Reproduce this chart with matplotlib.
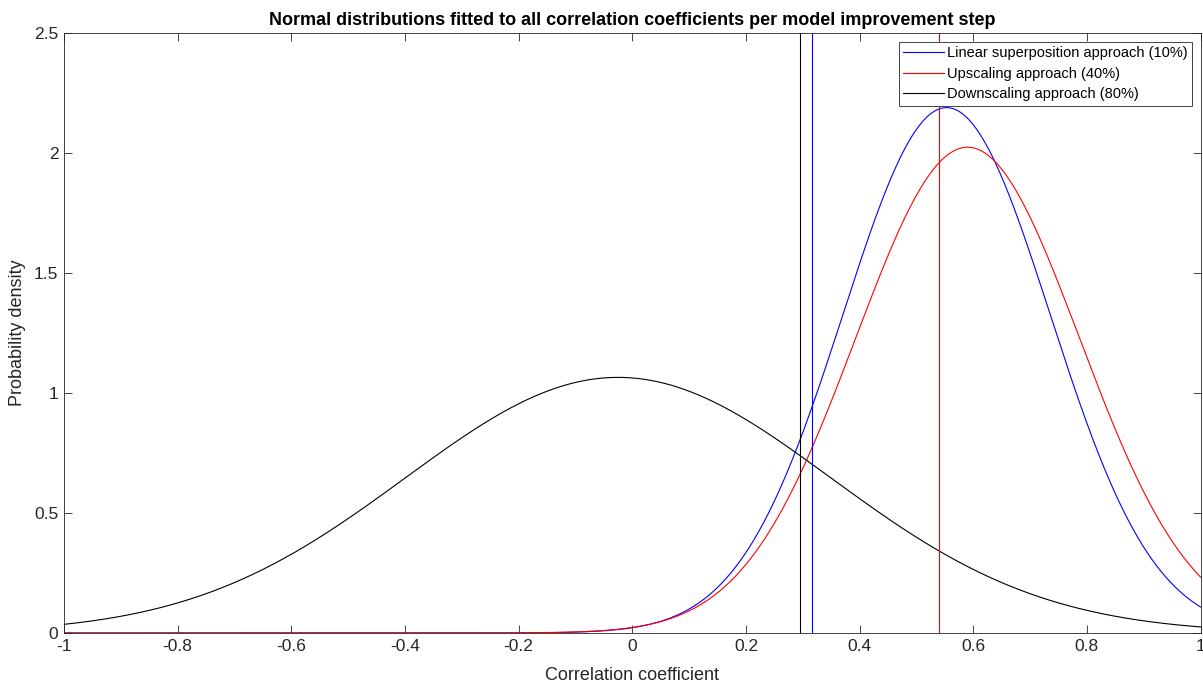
import numpy as np
import matplotlib
matplotlib.use('Agg')
import matplotlib.pyplot as plt

plt.rcParams['font.family'] = ['Liberation Sans', 'DejaVu Sans']

# fitted normal distributions
labels = ['Linear superposition approach (10%)', 'Upscaling approach (40%)', 'Downscaling approach (80%)']
means = [0.553, 0.590, -0.025]
peak_heights = [2.189, 2.024, 1.065]
colors = ['#0000ff', '#ff0000', '#000000']
# vertical marker lines (percentile positions)
marker_x = [0.317, 0.539, 0.295]

x = np.linspace(-1, 1, 1001)

fig = plt.figure(figsize=(12.03, 6.84), dpi=100)
ax = fig.add_axes([0.0532, 0.0746, 0.9448, 0.8772])

for mu, h, c, lab in zip(means, peak_heights, colors, labels):
    sigma = 1.0 / (h * np.sqrt(2 * np.pi))
    pdf = np.exp(-0.5 * ((x - mu) / sigma) ** 2) / (sigma * np.sqrt(2 * np.pi))
    ax.plot(x, pdf, color=c, lw=0.8, label=lab)

for mx, c in zip(marker_x, colors):
    ax.axvline(mx, color=c, lw=0.8)

ax.set_xlim(-1, 1)
ax.set_ylim(0, 2.5)
ax.set_xticks(np.arange(-1, 1.01, 0.2))
ax.set_xticklabels(['-1', '-0.8', '-0.6', '-0.4', '-0.2', '0', '0.2', '0.4', '0.6', '0.8', '1'])
ax.set_yticks([0, 0.5, 1, 1.5, 2, 2.5])
ax.set_yticklabels(['0', '0.5', '1', '1.5', '2', '2.5'])
ax.tick_params(direction='in', top=True, right=True, length=6, width=0.6,
               color='#262626', labelcolor='#262626', labelsize=12.5, pad=4)
for s in ax.spines.values():
    s.set_color('#262626')
    s.set_linewidth(0.6)

ax.set_xlabel('Correlation coefficient', fontsize=13, labelpad=10, color='#262626')
ax.set_ylabel('Probability density', fontsize=13, labelpad=6, color='#262626')
ax.set_title('Normal distributions fitted to all correlation coefficients per model improvement step',
             fontsize=13, fontweight='bold', pad=6)

leg = ax.legend(loc='upper right', fontsize=10.5, frameon=True, fancybox=False,
                edgecolor='#262626', framealpha=1, handlelength=2.8, handletextpad=0.2,
                borderpad=0.3, labelspacing=0.45, borderaxespad=0.6)
leg.get_frame().set_linewidth(0.6)

fig.savefig('out.png', dpi=100)
